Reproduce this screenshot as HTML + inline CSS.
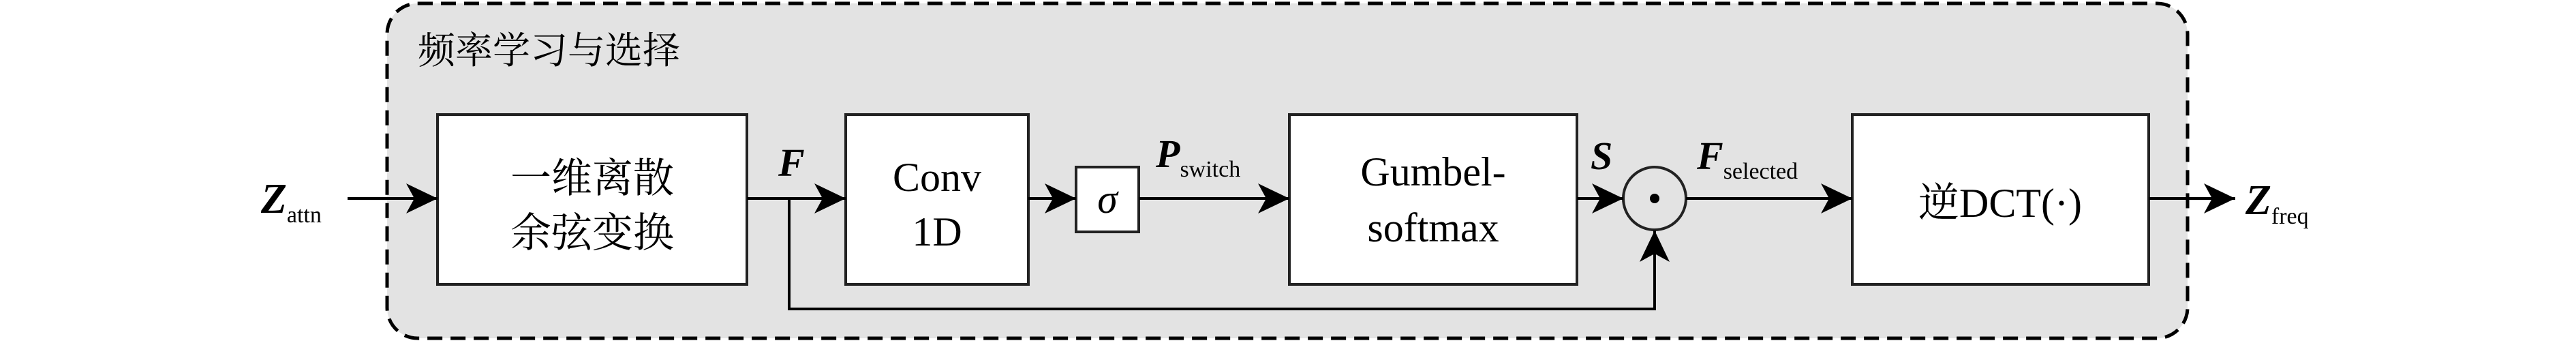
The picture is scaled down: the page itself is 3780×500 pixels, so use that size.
<!DOCTYPE html>
<html><head><meta charset="utf-8"><style>
html,body{margin:0;padding:0;background:#fff;}
svg{display:block}
</style></head><body>
<svg width="3780" height="500" viewBox="0 0 3780 500" xmlns="http://www.w3.org/2000/svg">
<defs>
<marker id="ar" markerWidth="48" markerHeight="48" refX="46" refY="24" orient="auto" markerUnits="userSpaceOnUse">
<path d="M0,2 L46,24 L0,46 L12,24 Z" fill="#000"/>
</marker>
</defs>
<rect x="568" y="5" width="2642" height="491" rx="45" ry="45" fill="#e3e3e3" stroke="#000" stroke-width="5" stroke-dasharray="22,12"/>
<text x="613" y="93" font-family="Liberation Serif, Noto Serif CJK SC, serif" font-size="55" fill="#000">频率学习与选择</text>

<g fill="#fff" stroke="#222" stroke-width="4">
<rect x="642" y="168" width="454" height="249"/>
<rect x="1241" y="168" width="268" height="249"/>
<rect x="1579" y="245" width="92" height="95"/>
<rect x="1892" y="168" width="422" height="249"/>
<rect x="2718" y="168" width="435" height="249"/>
<circle cx="2428" cy="291" r="46" fill="none"/>
</g>
<circle cx="2428" cy="291" r="7" fill="#000"/>

<g stroke="#000" stroke-width="4" fill="none">
<line x1="510" y1="291" x2="642" y2="291" marker-end="url(#ar)"/>
<line x1="1096" y1="291" x2="1241" y2="291" marker-end="url(#ar)"/>
<line x1="1509" y1="291" x2="1579" y2="291" marker-end="url(#ar)"/>
<line x1="1671" y1="291" x2="1892" y2="291" marker-end="url(#ar)"/>
<line x1="2314" y1="291" x2="2382" y2="291" marker-end="url(#ar)"/>
<line x1="2474" y1="291" x2="2718" y2="291" marker-end="url(#ar)"/>
<line x1="3153" y1="291" x2="3280" y2="291" marker-end="url(#ar)"/>
<polyline points="1158,291 1158,453 2428,453 2428,338" marker-end="url(#ar)"/>
</g>

<g font-family="Liberation Serif, Noto Serif CJK SC, serif" fill="#000" font-size="60" text-anchor="middle">
<text x="869" y="282">一维离散</text>
<text x="869" y="362">余弦变换</text>
<text x="1375" y="280">Conv</text>
<text x="1375" y="360">1D</text>
<text x="1625" y="312" font-style="italic">σ</text>
<text x="2103" y="272">Gumbel-</text>
<text x="2103" y="354">softmax</text>
<text x="2935" y="318">逆DCT(·)</text>
</g>

<g font-family="Liberation Serif, serif" fill="#000" font-weight="bold" font-style="italic">
<text x="383" y="312" font-size="62">Z<tspan font-size="34" font-weight="normal" font-style="normal" dy="14">attn</tspan></text>
<text x="1142" y="258" font-size="58">F</text>
<text x="1696" y="245" font-size="58">P<tspan font-size="34" font-weight="normal" font-style="normal" dy="14">switch</tspan></text>
<text x="2334" y="248" font-size="58">S</text>
<text x="2490" y="248" font-size="58">F<tspan font-size="34" font-weight="normal" font-style="normal" dy="14">selected</tspan></text>
<text x="3295" y="314" font-size="62">Z<tspan font-size="34" font-weight="normal" font-style="normal" dy="14">freq</tspan></text>
</g>
</svg>
</body></html>
